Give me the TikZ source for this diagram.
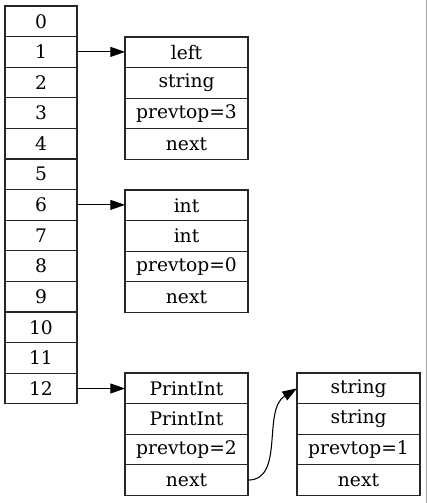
\documentclass[tikz,border=0pt]{standalone}
\usepackage{fontspec}
\setmainfont{DejaVu Serif}
\usetikzlibrary{arrows.meta}
\begin{document}
\begin{tikzpicture}[x=0.75pt,y=-0.75pt,
  every node/.style={font=\fontsize{14}{17}\selectfont},
  cell/.style={draw=black!85,line width=0.8pt,minimum width=54pt,minimum height=22.95pt,inner sep=0pt,outer sep=0pt},
  field/.style={cell,minimum width=92.25pt},
  link/.style={draw=black,line width=0.8pt,-{Triangle[length=11pt,width=7.5pt]}}]
\useasboundingbox (0,0) rectangle (427,503);
% page edge
\draw[gray!70,line width=0.9pt] (426.3,0) -- (426.3,503);
% the stack of slots
\foreach \i in {0,...,12}
  \node[cell] (a\i) at (41,21.3+30.6*\i) {\i};
% frame records: name, centre x, top y, fields
\foreach \nm/\cx/\ty/\fa/\fb/\fc in {
    rA/186.5/37/left/string/prevtop=3,
    rB/186.5/190/int/int/prevtop=0,
    rC/186.5/373/PrintInt/PrintInt/prevtop=2,
    rD/358.5/373/string/string/prevtop=1}{
  \node[field] (\nm1) at (\cx,\ty+15.3) {\fa};
  \node[field] (\nm2) at (\cx,\ty+45.9) {\fb};
  \node[field] (\nm3) at (\cx,\ty+76.5) {\fc};
  \node[field] (\nm4) at (\cx,\ty+107.1) {next};
}
% slot pointers
\draw[link] (a1.east) -- (a1.east -| rA1.west);
\draw[link] (a6.east) -- (a6.east -| rB1.west);
\draw[link] (a12.east) -- (a12.east -| rC1.west);
% chain to the next frame
\draw[link] (rC4.east) .. controls (285,480) and (262,410) .. (rD1.west);
\end{tikzpicture}
\end{document}
